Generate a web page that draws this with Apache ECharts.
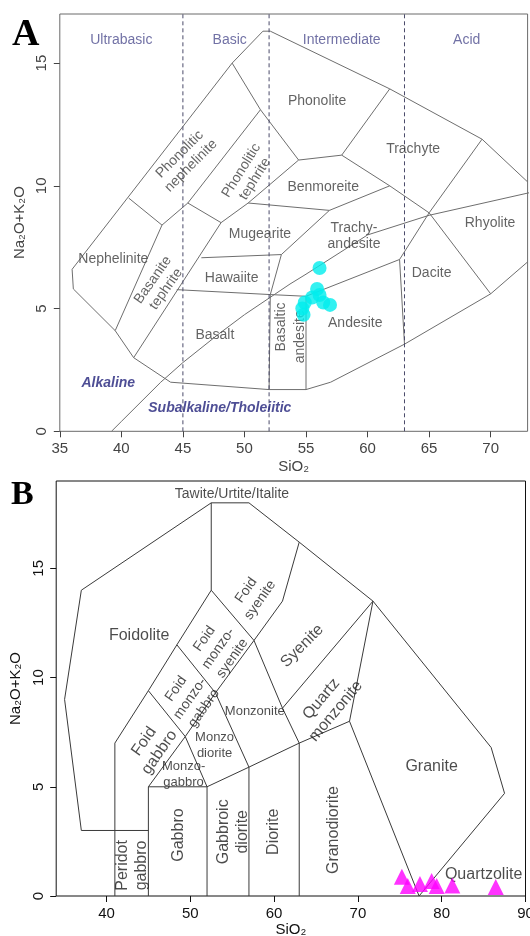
<!DOCTYPE html>
<html><head><meta charset="utf-8">
<script src="https://cdn.jsdelivr.net/npm/echarts@6/dist/echarts.min.js"></script>
<style>html,body{margin:0;padding:0;background:#fff}#c{width:530px;height:936px}</style>
</head><body><div id="c"></div>
<script>
// ---------------- Panel A (TAS, Cox et al. 1979) ----------------
const xTicksA = [35, 40, 45, 50, 55, 60, 65, 70];
const yTicksA = [0, 5, 10, 15];
const silicaDivisionsA = [45, 52, 63];
const irvineX = [39.2, 40, 43.2, 45, 48, 50, 53.7, 55, 60, 65, 77.4];
const irvineY = [0, 0.4, 2, 2.8, 4, 4.75, 6, 6.4, 8, 8.8, 10.2];
const samplesA = [[56.1, 6.65], [55.9, 5.8], [56.1, 5.55], [55.5, 5.45], [56.4, 5.25], [56.95, 5.15], [54.9, 5.25], [54.7, 5.0], [54.8, 4.75]];
const fieldLinesA = [
  [[36.1, 5.8], [36, 6.6], [49, 15], [51.5, 16.3], [52.1, 16.3], [61.8, 13.95], [69.3, 11.9], [73, 10.16]],
  [[36.1, 5.8], [39.5, 4.1], [41, 3], [44, 2], [52, 1.7], [55, 1.7], [57, 2], [63, 3.55], [70, 5.6], [73, 6.9]],
  [[39.5, 4.1], [43.3, 8.4]],
  [[41, 3], [48.1, 8.5]],
  [[40.6, 9.5], [43.3, 8.4]],
  [[43.3, 8.4], [45.4, 9.3], [51.3, 13.1]],
  [[45.4, 9.3], [48.1, 8.5]],
  [[48.1, 8.5], [50.3, 9.3], [54.4, 11.05]],
  [[49, 15], [51.3, 13.1], [54.4, 11.05]],
  [[54.4, 11.05], [57.9, 11.25], [61.8, 10], [65, 8.9]],
  [[57.9, 11.25], [61.8, 13.95]],
  [[69.3, 11.9], [65, 8.9], [62.6, 7.0]],
  [[65, 8.9], [70, 5.6]],
  [[62.6, 7.0], [63, 3.55]],
  [[55, 5.5], [62.6, 7.0]],
  [[46.5, 7.07], [53, 7.2]],
  [[56.9, 9.0], [53, 7.2], [52.1, 5.57]],
  [[44.5, 5.77], [52.1, 5.57], [55, 5.5]],
  [[50.3, 9.3], [56.9, 9.0], [61.8, 10]],
  [[52, 1.7], [52.1, 5.57]],
  [[55, 1.7], [55, 5.5]]
];
const fieldNamesA = [
  ['Phonolite', 55.9, 13.47], ['Trachyte', 63.7, 11.5], ['Benmoreite', 56.4, 9.93],
  ['Trachy-\nandesite', 58.9, 7.95], ['Rhyolite', 69.95, 8.5], ['Dacite', 65.2, 6.46],
  ['Andesite', 59.0, 4.41], ['Basaltic', 52.95, 4.25], ['andesite', 54.5, 3.85],
  ['Mugearite', 51.26, 8.02], ['Hawaiite', 48.96, 6.25], ['Basalt', 47.6, 3.93],
  ['Nephelinite', 39.35, 7.0], ['Basanite\ntephrite', 43.1, 5.98],
  ['Phonolitic\nnephelinite', 45.2, 11.05], ['Phonolitic\ntephrite', 50.3, 10.45]
];
const fieldRotA = {'Basaltic': 90, 'andesite': 90, 'Basanite\ntephrite': 55, 'Phonolitic\nnephelinite': 45, 'Phonolitic\ntephrite': 58};
const groupNamesA = [['Ultrabasic', 40, 15.95], ['Basic', 48.8, 15.95], ['Intermediate', 57.9, 15.95], ['Acid', 68.05, 15.95]];
const seriesNamesA = [['Alkaline', 38.94, 1.96], ['Subalkaline/Tholeiitic', 48.0, 0.94]];

// ---------------- Panel B (plutonic TAS, Middlemost 1994) ----------------
const xTicksB = [40, 50, 60, 70, 80, 90];
const yTicksB = [0, 5, 10, 15];
const samplesB = [[75.25, 0.88], [75.95, 0.46], [77.4, 0.55], [78.8, 0.69], [79.4, 0.46], [81.27, 0.48], [86.45, 0.41]];
const fieldLinesB = [
  [[45, 3], [37, 3], [35, 9], [37, 14], [52.5, 18], [57, 18], [63, 16.2], [71.8, 13.5], [85.9, 6.8], [87.5, 4.7], [77.3, 0]],
  [[41, 0], [41, 7], [45, 9.4], [48.4, 11.5], [52.5, 14], [52.5, 18]],
  [[45, 0], [45, 5], [49.4, 7.3], [53, 9.3], [57.6, 11.7], [61, 13.5], [63, 16.2]],
  [[45, 5], [52, 5], [57, 5.9], [63, 7], [69, 8], [71.8, 13.5]],
  [[52, 0], [52, 5]], [[57, 0], [57, 5.9]], [[63, 0], [63, 7]],
  [[45, 9.4], [49.4, 7.3], [52, 5]],
  [[48.4, 11.5], [53, 9.3], [57, 5.9]],
  [[52.5, 14], [57.6, 11.7], [61, 8.6], [63, 7]],
  [[61, 8.6], [71.8, 13.5]],
  [[69, 8], [77.3, 0]]
];
const fieldNamesB = [
  ['Tawite/Urtite/Italite', 54.97, 18.4], ['Foidolite', 43.9, 11.9],
  ['Foid\nsyenite', 57.5, 13.77], ['Foid\nmonzo-\nsyenite', 53.35, 11.33],
  ['Foid\nmonzo-\ngabbro', 49.97, 9.04], ['Foid\ngabbro', 45.4, 6.83],
  ['Monzonite', 57.7, 8.43], ['Monzo\ndiorite', 52.9, 6.9], ['Monzo-\ngabbro', 49.2, 5.55],
  ['Gabbro', 48.6, 2.79], ['Peridot\ngabbro', 43.1, 1.4], ['Gabbroic\ndiorite', 55.1, 2.94],
  ['Diorite', 59.9, 2.94], ['Syenite', 63.35, 11.45], ['Quartz\nmonzonite', 66.5, 8.74],
  ['Granite', 78.8, 5.92], ['Granodiorite', 67.1, 3.02], ['Quartzolite', 85.0, 0.96]
];
const fieldRotB = {'Foid\nsyenite': 55, 'Foid\nmonzo-\nsyenite': 55, 'Foid\nmonzo-\ngabbro': 55, 'Foid\ngabbro': 55,
  'Gabbro': 90, 'Peridot\ngabbro': 90, 'Gabbroic\ndiorite': 90, 'Diorite': 90, 'Syenite': 45,
  'Quartz\nmonzonite': 50, 'Granodiorite': 90};
const fieldSizeB = {'Monzonite': 13, 'Monzo\ndiorite': 13, 'Monzo-\ngabbro': 13, 'Foid\nmonzo-\nsyenite': 14,
  'Foid\nmonzo-\ngabbro': 14, 'Foid\nsyenite': 14, 'Tawite/Urtite/Italite': 14};

// ---------------- build ----------------
const FONT = 'Liberation Sans, Arial, sans-serif';
const series = [];
function addLines(lines, idx, color) {
  lines.forEach(pl => series.push({type: 'line', xAxisIndex: idx, yAxisIndex: idx, data: pl, symbol: 'none',
    lineStyle: {color: color, width: 1}, silent: true, z: 2}));
}
addLines(fieldLinesA, 0, '#6e6e6e');
addLines(fieldLinesB, 1, '#3a3a3a');
series.push({type: 'line', xAxisIndex: 0, yAxisIndex: 0, data: irvineX.map((x, i) => [x, irvineY[i]]), symbol: 'none',
  lineStyle: {color: '#6e6e6e', width: 1}, silent: true, z: 2});
silicaDivisionsA.forEach(x => series.push({type: 'line', xAxisIndex: 0, yAxisIndex: 0, data: [[x, 0], [x, 17]], symbol: 'none',
  lineStyle: {color: '#4a4a6a', width: 1, type: [4, 3]}, silent: true, z: 2}));

function labelSeries(idx, items, styleFn) {
  series.push({type: 'scatter', xAxisIndex: idx, yAxisIndex: idx, symbolSize: 1, itemStyle: {color: 'rgba(0,0,0,0)'},
    silent: true, z: 5,
    data: items.map(it => {
      const st = styleFn(it[0]);
      return {value: [it[1], it[2]], label: Object.assign({show: true, position: 'inside', formatter: it[0],
        fontFamily: FONT, align: 'center', verticalAlign: 'middle'}, st)};
    })
  });
}
labelSeries(0, fieldNamesA, t => ({rotate: fieldRotA[t] || 0, fontSize: 14, lineHeight: 16, color: '#3c3c3c'}));
labelSeries(0, groupNamesA, t => ({fontSize: 14, color: '#4e4e8e'}));
labelSeries(0, seriesNamesA, t => ({fontSize: 14, color: '#22227a', fontWeight: 'bold', fontStyle: 'italic'}));
labelSeries(1, fieldNamesB, t => ({rotate: fieldRotB[t] || 0, fontSize: fieldSizeB[t] || 16,
  lineHeight: (fieldSizeB[t] || 16) + 3, color: '#1e1e1e'}));

series.push({type: 'scatter', xAxisIndex: 0, yAxisIndex: 0, data: samplesA, symbol: 'circle', symbolSize: 14,
  itemStyle: {color: '#00EEEE'}, z: 8, silent: true});
series.push({type: 'scatter', xAxisIndex: 1, yAxisIndex: 1, data: samplesB, symbol: 'triangle', symbolSize: 16,
  itemStyle: {color: '#FF00FF'}, z: 8, silent: true});

function xAxis(idx, min, max, ticks, color, gap) {
  return {gridIndex: idx, type: 'value', min: min, max: max, interval: 5,
    axisLine: {show: false}, splitLine: {show: false},
    axisTick: {show: true, inside: false, length: 6, lineStyle: {color: color}, customValues: ticks},
    axisLabel: {customValues: ticks, color: color, fontSize: 15, fontFamily: FONT, margin: 10},
    name: 'SiO\u2082', nameLocation: 'middle', nameGap: gap,
    nameTextStyle: {color: color, fontSize: 15, fontFamily: FONT}};
}
function yAxis(idx, min, max, ticks, color, gap) {
  return {gridIndex: idx, type: 'value', min: min, max: max, interval: 5,
    axisLine: {show: false}, splitLine: {show: false},
    axisTick: {show: true, inside: false, length: 6, lineStyle: {color: color}, customValues: ticks},
    axisLabel: {customValues: ticks, color: color, fontSize: 15, fontFamily: FONT, rotate: 90, margin: 10},
    name: 'Na\u2082O+K\u2082O', nameLocation: 'middle', nameGap: gap, nameRotate: 90,
    nameTextStyle: {color: color, fontSize: 15, fontFamily: FONT}};
}

const chart = echarts.init(document.getElementById('c'), null, {renderer: 'canvas'});
chart.setOption({
  animation: false,
  backgroundColor: '#ffffff',
  grid: [
    {left: 59.8, top: 14, width: 467.8, height: 417.3, show: true, borderColor: '#6a6a6a', borderWidth: 1,
      backgroundColor: 'transparent', containLabel: false, outerBoundsMode: 'none'},
    {left: 56.2, top: 481, width: 469.3, height: 415, show: true, borderColor: '#111', borderWidth: 1,
      backgroundColor: 'transparent', containLabel: false, outerBoundsMode: 'none'}
  ],
  xAxis: [xAxis(0, 35, 73, xTicksA, '#444', 28), xAxis(1, 34, 90, xTicksB, '#111', 25)],
  yAxis: [yAxis(0, 0, 17, yTicksA, '#444', 32), yAxis(1, 0, 19, yTicksB, '#111', 30)],
  graphic: [
    {type: 'text', left: 12, top: 16, style: {text: 'A', font: 'bold 38px "Liberation Serif", serif', fill: '#000'}},
    {type: 'text', left: 11, top: 478, style: {text: 'B', font: 'bold 34px "Liberation Serif", serif', fill: '#000'}}
  ],
  series: series
});
</script></body></html>
